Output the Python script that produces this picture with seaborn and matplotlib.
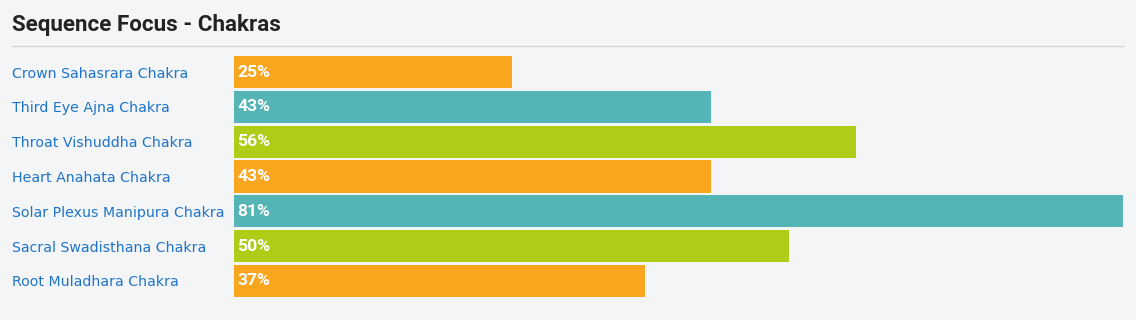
import matplotlib
matplotlib.use("Agg")
import matplotlib.pyplot as plt
import seaborn as sns
import pandas as pd
from matplotlib.lines import Line2D
from matplotlib import font_manager as fm

categories = [
    "Crown Sahasrara Chakra",
    "Third Eye Ajna Chakra",
    "Throat Vishuddha Chakra",
    "Heart Anahata Chakra",
    "Solar Plexus Manipura Chakra",
    "Sacral Swadisthana Chakra",
    "Root Muladhara Chakra",
]
values = [25, 43, 56, 43, 81, 50, 37]
bar_colors = ["#f9a61e", "#55b4b5", "#aecd17", "#f9a61e", "#55b4b5", "#aecd17", "#f9a61e"]
title = "Sequence Focus - Chakras"

BG = "#f4f5f7"
W, H = 1136, 320
sns.set_theme(style="white")
plt.rcParams["font.family"] = ["Roboto", "DejaVu Sans"]

fig = plt.figure(figsize=(W / 100, H / 100), dpi=100, facecolor=BG)
renderer = fig.canvas.get_renderer()


def _w(f):
    w = f.weight
    if isinstance(w, str):
        w = fm.weight_dict.get(w, 400)
    return w


def best_font(sample, size, target_px, wmin, wmax):
    cands = [f for f in fm.fontManager.ttflist
             if "roboto" in f.name.lower() and f.style == "normal"
             and wmin <= _w(f) <= wmax and "mono" not in f.name.lower()
             and "slab" not in f.name.lower()]
    best, best_err = None, None
    probe = fig.text(0, 0, sample)
    for f in cands:
        fp = fm.FontProperties(fname=f.fname, size=size)
        probe.set_fontproperties(fp)
        wpx = probe.get_window_extent(renderer).width
        err = abs(wpx - target_px)
        if best_err is None or err < best_err:
            best, best_err = fp, err
    probe.remove()
    if best is None:
        best = fm.FontProperties(family=["Roboto", "DejaVu Sans"], weight="bold", size=size)
    return best


ax = fig.add_axes([234 / W, 1 - 298.4 / H, (1123 - 234) / W, (298.4 - 54.6) / H])
ax.set_facecolor(BG)

df = pd.DataFrame({"cat": categories, "val": values})
sns.barplot(data=df, y="cat", x="val", hue="cat", palette=bar_colors,
            orient="h", legend=False, ax=ax, width=0.92, saturation=1, linewidth=0)

ax.set_xlim(0, 889 / 11.1)
ax.set_ylim(len(categories) - 0.5, -0.5)
ax.set_xlabel("")
ax.set_ylabel("")
ax.set_xticks([])
for s in ax.spines.values():
    s.set_visible(False)
ax.tick_params(axis="y", length=0, pad=(234 - 12) * 72 / 100, labelsize=10.2, labelcolor="#1f74c9")
for lab in ax.get_yticklabels():
    lab.set_ha("left")
    lab.set_family(["DejaVu Sans"])

pct_font = best_font("25%", 12.6, 33, 600, 900)
for i, v in enumerate(values):
    ax.annotate(f"{v}%", xy=(0, i), xytext=(2.3, 0), textcoords="offset points",
                ha="left", va="center", color="white", fontproperties=pct_font)

title_font = best_font(title, 16.1, 283, 500, 800)
fig.text(12 / W, 1 - 30.5 / H, title, color="#232323", ha="left", va="baseline",
         fontproperties=title_font)
fig.add_artist(Line2D([12 / W, 1124 / W], [1 - 45.5 / H, 1 - 45.5 / H],
                      transform=fig.transFigure, color="#d6d6d6", linewidth=1))

fig.savefig("out.png", dpi=100, facecolor=BG)
